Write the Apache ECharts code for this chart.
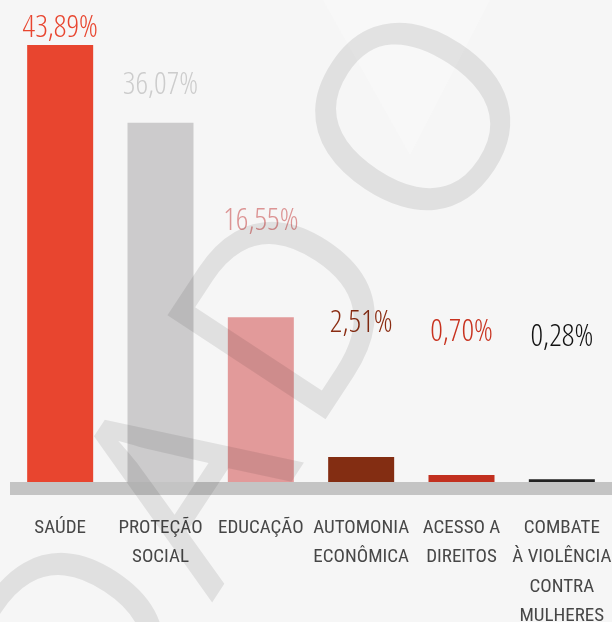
<!DOCTYPE html>
<html>
<head>
<meta charset="utf-8">
<script src="https://cdn.jsdelivr.net/npm/echarts@6/dist/echarts.min.js"></script>
<style>
  html, body { margin: 0; padding: 0; background: #f6f6f6; }
  #main { width: 612px; height: 622px; }
</style>
</head>
<body>
<div id="main"></div>
<script>
// dados do gráfico
var categories = ['SAÚDE', 'PROTEÇÃO\nSOCIAL', 'EDUCAÇÃO', 'AUTOMONIA\nECONÔMICA', 'ACESSO A\nDIREITOS', 'COMBATE\nÀ VIOLÊNCIA\nCONTRA\nMULHERES'];
var values = [43.89, 36.07, 16.55, 2.51, 0.70, 0.28];

// estilos
var barColors = ['#e8452f', '#cccbcc', '#e29a9a', '#832d12', '#c2301f', '#222222'];
var labelColors = ['#e8452f', '#cccccc', '#dc9494', '#8a2c12', '#c8321f', '#111111'];
var labelGap = [1, 22, 81, 118, 127, 127];

// marca d'água
var wmLetters = ['D', 'A', 'D', 'O'];
var wmPos = [[90, 650], [195, 491], [301, 319], [429, 127]];

var myChart = echarts.init(document.getElementById('main'));

var barData = values.map(function (v, i) {
    return {
        value: v,
        itemStyle: { color: barColors[i] },
        label: { color: labelColors[i], distance: labelGap[i] }
    };
});

var marks = wmLetters.map(function (ch, i) {
    return {
        type: 'text',
        x: wmPos[i][0],
        y: wmPos[i][1],
        rotation: 0.99,
        silent: true,
        z: 100,
        style: {
            text: ch,
            fontSize: 265,
            fontWeight: 500,
            fontFamily: 'Open Sans',
            fill: 'rgba(0,0,0,0.085)',
            align: 'center',
            verticalAlign: 'middle',
            textAlign: 'center',
            textVerticalAlign: 'middle'
        }
    };
});
// "V" clarinho no fundo
marks.push({
    type: 'polygon',
    silent: true,
    z: -1,
    shape: { points: [[323, 0], [490, 0], [410, 155]] },
    style: { fill: 'rgba(255,255,255,0.22)' }
});

var option = {
    backgroundColor: '#f6f6f6',
    animation: false,
    grid: { left: 10, right: 0, top: 4, bottom: 140, outerBoundsMode: 'none', containLabel: false },
    xAxis: [
        {
            type: 'category',
            data: categories,
            axisLine: { show: false },
            axisTick: { show: false },
            axisLabel: {
                interval: 0,
                margin: 31,
                color: '#474747',
                fontSize: 19,
                lineHeight: 29.5,
                fontFamily: 'Roboto Condensed'
            }
        },
        {
            type: 'category',
            data: categories,
            position: 'bottom',
            offset: 6.5,
            axisLine: { show: true, lineStyle: { color: '#c4c4c4', width: 13, cap: 'butt' } },
            axisTick: { show: false },
            axisLabel: { show: false }
        }
    ],
    yAxis: {
        type: 'value',
        min: 0,
        max: 48,
        show: false,
        splitLine: { show: false }
    },
    series: [
        {
            type: 'bar',
            barWidth: 66,
            data: barData,
            label: {
                show: true,
                position: 'top',
                fontSize: 31,
                fontWeight: 'condensed 300',
                fontFamily: 'Open Sans',
                formatter: function (p) {
                    return p.value.toFixed(2).replace('.', ',') + '%';
                }
            }
        }
    ],
    graphic: marks
};

myChart.setOption(option);
</script>
</body>
</html>
